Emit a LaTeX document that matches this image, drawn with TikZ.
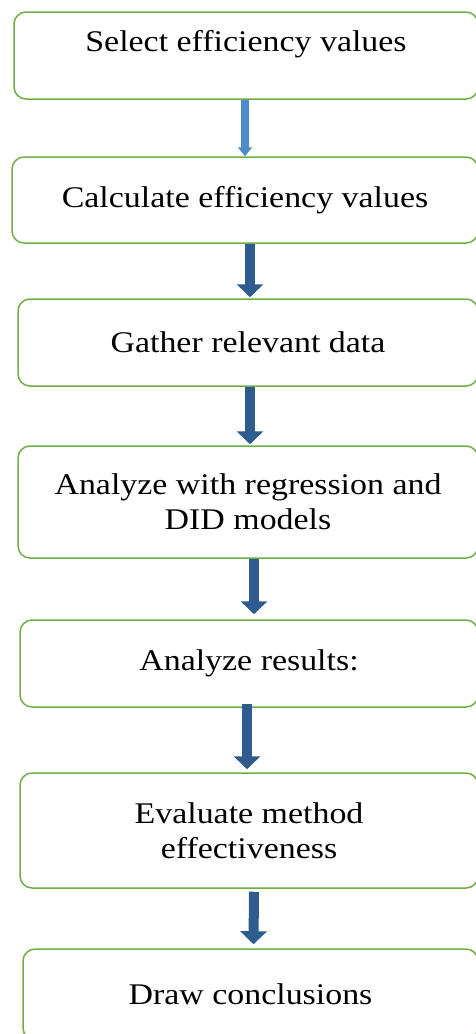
\documentclass[tikz,border=0pt]{standalone}
\usepackage{fontspec}
\usepackage{graphicx}
\setmainfont{Liberation Serif}
\usetikzlibrary{arrows.meta}
\definecolor{boxgreen}{HTML}{70AD47}
\definecolor{arrblue}{HTML}{2F5C8F}
\definecolor{arrlight}{HTML}{4F8BC9}
\newcommand\wtxt[1]{\scalebox{1.13}[1.0]{#1}}
\begin{document}
\begin{tikzpicture}[x=1pt,y=-1pt,
  stepbox/.style={draw=boxgreen,line width=1.5pt,rounded corners=12pt,fill=white,
    inner sep=0pt,align=center,font=\fontsize{30}{35}\selectfont},
  bigarr/.style={draw=arrblue,line width=10pt,-{Triangle[width=26pt,length=13pt]}},
  smallarr/.style={draw=arrlight,line width=8pt,-{Triangle[width=14pt,length=9pt]}}]
\clip (0,0) rectangle (476,1034);
\fill[white] (0,0) rectangle (476,1034);
\node[stepbox,minimum width=464pt,minimum height=87pt,text depth=30pt] (b1) at (246,55.5) {\wtxt{Select efficiency values}};
\node[stepbox,minimum width=466pt,minimum height=86pt] (b2) at (245,200) {\wtxt{Calculate efficiency values}};
\node[stepbox,minimum width=460pt,minimum height=87pt] (b3) at (248,342.5) {\wtxt{Gather relevant data}};
\node[stepbox,minimum width=460pt,minimum height=112pt] (b4) at (248,502) {\wtxt{Analyze with regression and}\\\wtxt{DID models}};
\node[stepbox,minimum width=458pt,minimum height=87pt] (b5) at (249,663.5) {\wtxt{Analyze results:}};
\node[stepbox,minimum width=458pt,minimum height=115pt] (b6) at (249,830.5) {\wtxt{Evaluate method}\\\wtxt{effectiveness}};
\node[stepbox,minimum width=455pt,minimum height=91pt] (b7) at (250.5,994.5) {\wtxt{Draw conclusions}};
\draw[smallarr] ([xshift=-1pt]b1.south) -- ([xshift=0pt]b2.north);
\draw[bigarr] ([xshift=5pt]b2.south) -- ([xshift=2pt,yshift=1pt]b3.north);
\draw[bigarr] ([xshift=2pt]b3.south) -- ([xshift=2pt,yshift=1pt]b4.north);
\draw[bigarr] ([xshift=6pt]b4.south) -- ([xshift=5pt,yshift=5pt]b5.north);
\draw[bigarr] ([xshift=-2pt,yshift=4pt]b5.south) -- ([xshift=-2pt,yshift=3pt]b6.north);
\draw[bigarr] ([xshift=5pt,yshift=-3pt]b6.south) -- ([xshift=3pt,yshift=4pt]b7.north);
\end{tikzpicture}
\end{document}
